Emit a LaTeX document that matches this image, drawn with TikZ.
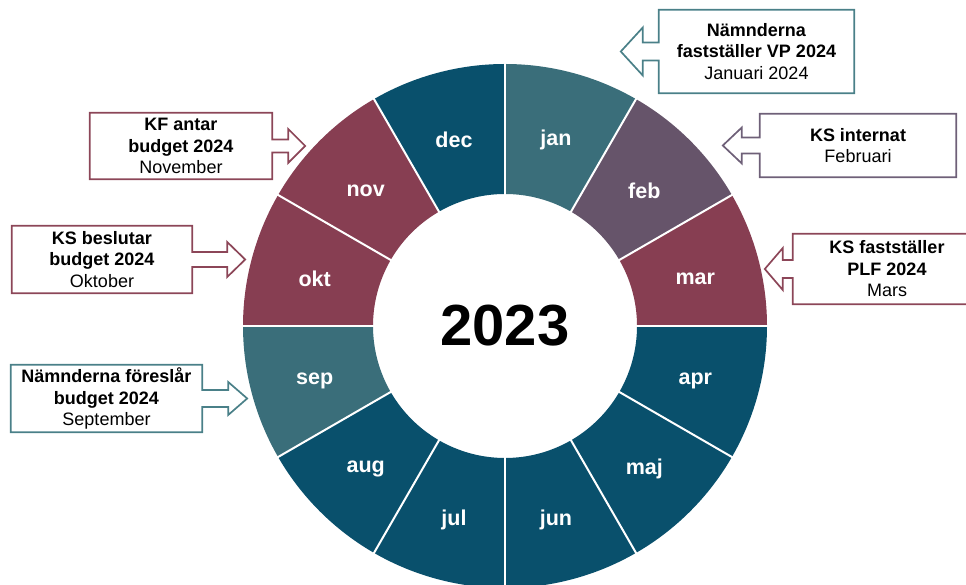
\documentclass[tikz,border=0pt]{standalone}
\usepackage{fontspec}
\setmainfont{Liberation Sans}
\usetikzlibrary{calc}

\definecolor{mblue}{HTML}{09506C}
\definecolor{mteal}{HTML}{3A6E7A}
\definecolor{mred}{HTML}{873E52}
\definecolor{mplum}{HTML}{66546A}
\definecolor{bteal}{HTML}{4A8088}
\definecolor{bred}{HTML}{8C4658}
\definecolor{bplum}{HTML}{6E6078}

\tikzset{
  month/.style={text=white, yshift=-4, font=\bfseries\fontsize{21.5}{25}\selectfont},
  boxtext/.style={align=center, inner sep=0pt, font=\fontsize{18}{21.5}\selectfont},
  outline/.style={line width=1.7pt, line join=miter},
}

% box with arrow to the left / right: node, colour, shaft, head, shaft half, head half
\newcommand{\boxleft}[6]{\draw[outline,#2] (#1.north west) -- (#1.north east) -- (#1.south east) -- (#1.south west) -- ($(#1.west)+(0,-#5)$) -- ++(-#3,0) -- ++(0,#5-#6) -- ++(-#4,#6) -- ++(#4,#6) -- ++(0,#5-#6) -- ++(#3,0) -- cycle;}
\newcommand{\boxright}[6]{\draw[outline,#2] (#1.north east) -- ($(#1.east)+(0,#5)$) -- ++(#3,0) -- ++(0,#6-#5) -- ++(#4,-#6) -- ++(-#4,-#6) -- ++(0,#6-#5) -- ++(-#3,0) -- (#1.south east) -- (#1.south west) -- (#1.north west) -- cycle;}

\begin{document}
\begin{tikzpicture}[x=1pt,y=1pt]
\useasboundingbox (0,0) rectangle (966,585);

\begin{scope}[shift={(505,259)}]
\foreach \m/\col [count=\i] in {jan/mteal, feb/mplum, mar/mred, apr/mblue, maj/mblue, jun/mblue, jul/mblue, aug/mblue, sep/mteal, okt/mred, nov/mred, dec/mblue}{
  \pgfmathsetmacro\a{90-30*\i}
  \fill[\col] (\a+30:262) arc[start angle=\a+30, end angle=\a, radius=262] -- (\a:132) arc[start angle=\a, end angle=\a+30, radius=132] -- cycle;
  \node[month] (\m) at (\a+15:197) {\m};
}
\foreach \a in {0,30,...,330}
  \draw[white, line width=2pt] (\a:131) -- (\a:263);
\node[font=\bfseries\fontsize{58}{60}\selectfont] (year) at (0,0) {2023};
\end{scope}

\node[boxtext, minimum width=195, minimum height=83] (vp) at (756.5,533.5) {\textbf{Nämnderna}\\ \textbf{fastställer VP 2024}\\ Januari 2024};
\node[boxtext, minimum width=196, minimum height=63] (ksint) at (858,439.5) {\textbf{KS internat}\\ Februari};
\node[boxtext, minimum width=188, minimum height=70] (plf) at (887,316) {\textbf{KS fastställer}\\ \textbf{PLF 2024}\\ Mars};
\node[boxtext, minimum width=182, minimum height=66] (kf) at (181,439) {\textbf{KF antar}\\ \textbf{budget 2024}\\ November};
\node[boxtext, minimum width=180, minimum height=67] (ksbes) at (102,325.5) {\textbf{KS beslutar}\\ \textbf{budget 2024}\\ Oktober};
\node[boxtext, minimum width=191, minimum height=67] (forsl) at (106.5,186.5) {\textbf{Nämnderna föreslår}\\ \textbf{budget 2024}\\ September};

\boxleft{vp}{bteal}{16}{22}{9}{24}
\boxleft{ksint}{bplum}{18}{19}{8}{18}
\boxleft{plf}{bred}{10}{18}{9}{21}
\boxright{kf}{bred}{16}{17}{6.5}{17}
\boxright{ksbes}{bred}{35}{18}{7.5}{17.5}
\boxright{forsl}{bteal}{26}{19}{8.5}{16.5}
\end{tikzpicture}
\end{document}
